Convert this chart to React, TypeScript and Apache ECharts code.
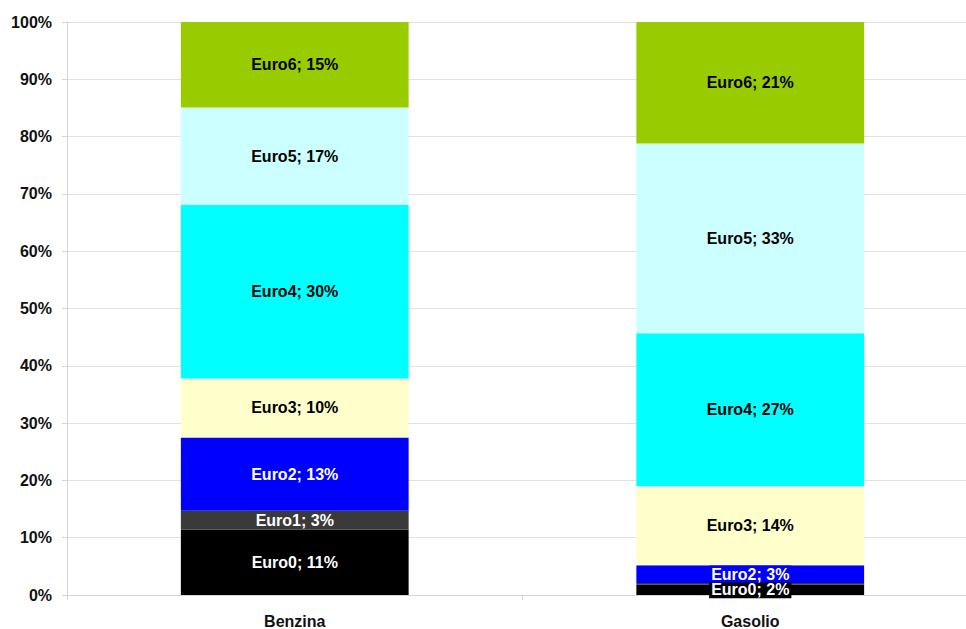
import React, { useEffect, useRef } from "react";
import * as echarts from "echarts";

const categories = ["Benzina", "Gasolio"];
const seriesNames = ["Euro0", "Euro1", "Euro2", "Euro3", "Euro4", "Euro5", "Euro6"];
const benzina = [11.4, 3.3, 12.8, 10.3, 30.3, 17.0, 14.9];
const gasolio = [1.8, 0.3, 3.1, 13.8, 26.7, 33.1, 21.2];
const colors = ["#000000", "#3a3a3a", "#0000ff", "#ffffcc", "#00ffff", "#ccffff", "#99cc00"];
const labelColors = ["#ffffff", "#ffffff", "#ffffff", "#000000", "#000000", "#000000", "#000000"];
const yTicks = [0, 10, 20, 30, 40, 50, 60, 70, 80, 90, 100];

const FONT = "'Liberation Sans', Arial, sans-serif";

export default function App() {
  const ref = useRef<HTMLDivElement>(null);
  useEffect(() => {
    if (!ref.current) return;
    const chart = echarts.init(ref.current, undefined, { renderer: "svg" });
    const series = seriesNames.map((name, i) => ({
      name,
      type: "bar",
      stack: "total",
      barWidth: "50%",
      itemStyle: { color: colors[i] },
      data: [benzina[i], gasolio[i]].map((v) => ({
        value: v,
        label: { show: v >= 1 },
      })),
      label: {
        show: true,
        position: "inside",
        formatter: (p: any) => `${name}; ${Math.round(p.value)}%`,
        color: labelColors[i],
        fontFamily: FONT,
        fontWeight: "bold",
        fontSize: 16,
        backgroundColor: colors[i],
        padding: [1, 2, 0, 2],
      },
      emphasis: { disabled: true },
    }));
    chart.setOption({
      animation: false,
      backgroundColor: "#ffffff",
      grid: { left: 67, right: 0, top: 22, bottom: 34, containLabel: false },
      xAxis: {
        type: "category",
        data: categories,
        axisLine: { show: true, lineStyle: { color: "#d4d4d4", width: 1 } },
        axisTick: { show: true, length: 5, alignWithLabel: false, lineStyle: { color: "#d4d4d4" } },
        axisLabel: {
          color: "#111111",
          fontFamily: FONT,
          fontWeight: "bold",
          fontSize: 16,
          margin: 18,
        },
        splitLine: { show: false },
      },
      yAxis: {
        type: "value",
        min: 0,
        max: 100,
        interval: 10,
        axisLine: { show: true, lineStyle: { color: "#d4d4d4", width: 1 } },
        axisTick: { show: true, length: 5, inside: false, lineStyle: { color: "#d4d4d4" } },
        axisLabel: {
          color: "#111111",
          fontFamily: FONT,
          fontWeight: "bold",
          fontSize: 16,
          margin: 15,
          formatter: (v: number) => (yTicks.includes(v) ? `${v}%` : ""),
        },
        splitLine: { show: true, lineStyle: { color: "#e2e2e2", width: 1 } },
      },
      series,
    });
    return () => chart.dispose();
  }, []);
  return (
    <div
      style={{ position: "absolute", left: 0, top: 0, width: 966, height: 629, overflow: "hidden" }}
    >
      <div ref={ref} style={{ width: 978, height: 629 }} />
    </div>
  );
}
